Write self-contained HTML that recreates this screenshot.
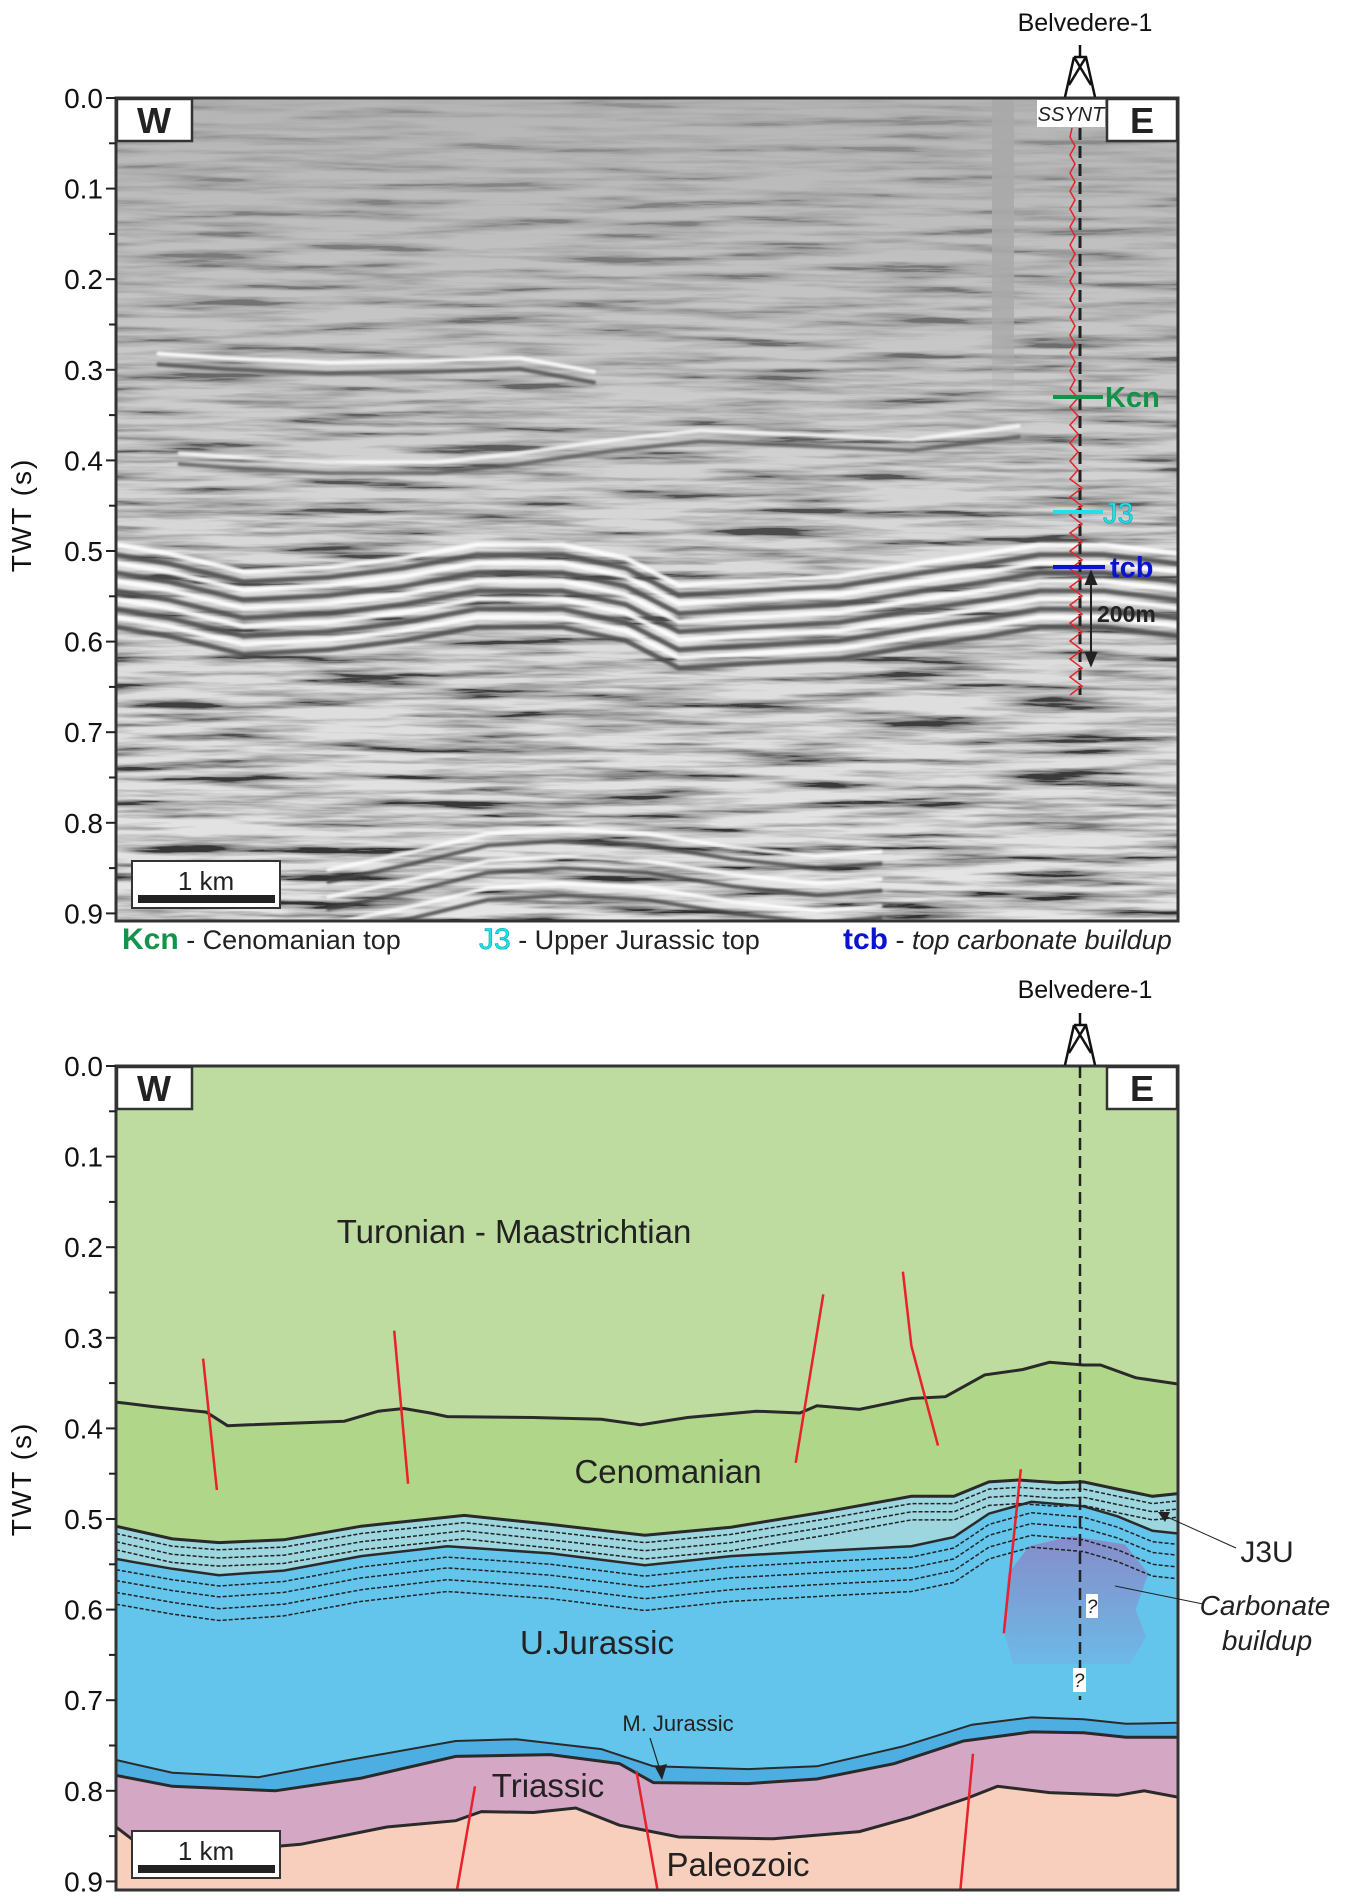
<!DOCTYPE html>
<html><head><meta charset="utf-8"><style>
html,body{margin:0;padding:0;background:#fff;}
svg{display:block;font-family:"Liberation Sans",Arial,sans-serif;}
</style></head><body>
<svg id="fig" width="1346" height="1904" viewBox="0 0 1346 1904" xmlns="http://www.w3.org/2000/svg">
<defs>
<filter id="seis" x="0" y="0" width="100%" height="100%">
<feTurbulence type="fractalNoise" baseFrequency="0.007 0.11" numOctaves="4" seed="7" result="n"/>
<feColorMatrix type="matrix" values="2.8 0 0 0 -0.75  2.8 0 0 0 -0.75  2.8 0 0 0 -0.75  0 0 0 0 1"/>
</filter>
<filter id="soft"><feGaussianBlur stdDeviation="1.0"/></filter>
<linearGradient id="fadeTop" x1="0" y1="0" x2="0" y2="1">
<stop offset="0" stop-color="#a9a9a9" stop-opacity="0.8"/>
<stop offset="0.3" stop-color="#a9a9a9" stop-opacity="0.5"/>
<stop offset="0.55" stop-color="#a9a9a9" stop-opacity="0.2"/>
<stop offset="1" stop-color="#a9a9a9" stop-opacity="0"/>
</linearGradient>
<linearGradient id="gapGrad" x1="0" y1="0" x2="0" y2="1">
<stop offset="0" stop-color="#a9a9a9" stop-opacity="0.95"/>
<stop offset="0.8" stop-color="#a9a9a9" stop-opacity="0.8"/>
<stop offset="1" stop-color="#a9a9a9" stop-opacity="0"/>
</linearGradient>
<linearGradient id="buildGrad" x1="0" y1="0" x2="0" y2="1">
<stop offset="0" stop-color="#8a86c6"/>
<stop offset="1" stop-color="#6db8e6"/>
</linearGradient>
<clipPath id="clipTop"><rect x="116" y="98" width="1062" height="823"/></clipPath>
<clipPath id="clipBot"><rect x="116" y="1066" width="1062" height="824"/></clipPath>
</defs>

<g>
<rect x="116" y="98" width="1062" height="823" fill="#a8a8a8"/>
<g clip-path="url(#clipTop)">
<rect x="116" y="98" width="1062" height="823" filter="url(#seis)" opacity="0.7"/>
<rect x="116" y="98" width="1062" height="823" fill="url(#fadeTop)"/>
<rect x="992" y="98" width="22" height="300" fill="url(#gapGrad)"/>
<g id="reflectors" filter="url(#soft)"></g>
</g>
<rect x="116" y="98" width="1062" height="823" fill="none" stroke="#333" stroke-width="3"/>
</g>

<g>
<g clip-path="url(#clipBot)" id="geo">
<rect x="116" y="1066" width="1062" height="824" fill="#bedc9f"/>
</g>
<rect x="116" y="1066" width="1062" height="824" fill="none" stroke="#333" stroke-width="3"/>
</g>

<g id="axes"></g>
<g id="overlay"></g>
</svg>
<script>
var X0 = 116, X1 = 1178;
var TOP0 = 98, BOT0 = 1066, PX_PER_S = 906;
var ticks = [0.0,0.1,0.2,0.3,0.4,0.5,0.6,0.7,0.8,0.9];
var tickLabels = ["0.0","0.1","0.2","0.3","0.4","0.5","0.6","0.7","0.8","0.9"];
var minorTicks = [0.05,0.15,0.25,0.35,0.45,0.55,0.65,0.75,0.85];
function xs(f){ return X0 + f*(X1-X0); }
function yTop(t){ return TOP0 + t*PX_PER_S; }
function yBot(t){ return BOT0 + t*PX_PER_S; }
var NS = "http://www.w3.org/2000/svg";
function mk(tag, attrs, parent){ var e=document.createElementNS(NS,tag); for(var k in attrs) e.setAttribute(k,attrs[k]); (parent||document.getElementById('fig')).appendChild(e); return e; }

// seismic reflectors (fraction of section, TWT s)
var bandX = [0,0.05,0.12,0.2,0.27,0.34,0.42,0.48,0.53,0.6,0.68,0.76,0.82,0.87,0.93,1];
var bandT = [0.50,0.51,0.53,0.525,0.515,0.50,0.50,0.515,0.545,0.54,0.535,0.52,0.51,0.50,0.50,0.51];
var bandOff = [0,0.02,0.04,0.06,0.08];
var r1X = [0.04,0.1,0.2,0.3,0.38,0.45];
var r1T = [0.29,0.295,0.30,0.298,0.295,0.31];
var r2X = [0.06,0.12,0.2,0.3,0.38,0.47,0.55,0.65,0.75,0.85];
var r2T = [0.40,0.405,0.41,0.41,0.40,0.385,0.375,0.38,0.385,0.37];
var r3X = [0.2,0.28,0.35,0.42,0.5,0.58,0.66,0.72];
var r3T = [0.86,0.84,0.82,0.815,0.82,0.835,0.845,0.84];

var refl = document.getElementById('reflectors');
function seisLine(X,T,off,color,w,name,op){
  var d=""; for(var i=0;i<X.length;i++){ d+=(i?"L":"M")+xs(X[i]).toFixed(1)+" "+yTop(T[i]+off).toFixed(1); }
  var p=mk('path',{d:d,fill:"none",stroke:color,"stroke-width":w,"stroke-linecap":"round","stroke-linejoin":"round",opacity:op||1},refl);
  
  
}
for (var b=0;b<bandOff.length;b++){
  seisLine(bandX,bandT,bandOff[b]-0.007,"#ffffff",5,"reflector-white",0.9);
  seisLine(bandX,bandT,bandOff[b]+0.004,"#505050",5,"reflector-dark",0.9);
}
seisLine(r1X,r1T,-0.008,"#ffffff",4,"reflector-white",0.9);
seisLine(r1X,r1T,0.004,"#555555",4,"reflector-dark",0.9);
seisLine(r2X,r2T,-0.008,"#ffffff",4,"reflector-white",0.8);
seisLine(r2X,r2T,0.004,"#555555",4,"reflector-dark",0.8);
for (var k=0;k<3;k++){
  seisLine(r3X,r3T,k*0.03-0.008,"#ffffff",4,"reflector-white",0.85);
  seisLine(r3X,r3T,k*0.03+0.005,"#474747",4,"reflector-dark",0.85);
}

// geologic horizons
var kcnX = [0,0.036,0.085,0.105,0.126,0.215,0.247,0.271,0.296,0.312,0.393,0.457,0.494,0.538,0.603,0.644,0.66,0.70,0.749,0.781,0.818,0.854,0.879,0.911,0.927,0.96,1];
var kcnT = [0.371,0.376,0.382,0.397,0.396,0.392,0.381,0.378,0.383,0.387,0.388,0.390,0.396,0.388,0.381,0.383,0.375,0.379,0.367,0.365,0.341,0.335,0.327,0.330,0.330,0.344,0.351];
var j3X = [0,0.053,0.097,0.158,0.231,0.328,0.409,0.498,0.579,0.668,0.749,0.789,0.822,0.850,0.887,0.911,0.943,0.976,1];
var j3T = [0.508,0.522,0.526,0.523,0.508,0.496,0.506,0.518,0.509,0.492,0.475,0.475,0.459,0.457,0.460,0.459,0.467,0.475,0.472];
var ujX = [0,0.053,0.097,0.158,0.231,0.312,0.409,0.498,0.579,0.668,0.749,0.789,0.822,0.862,0.911,0.943,0.976,1];
var ujT = [0.544,0.555,0.562,0.557,0.541,0.530,0.538,0.551,0.541,0.535,0.530,0.520,0.494,0.481,0.486,0.497,0.513,0.516];
var mjX = [0,0.053,0.134,0.215,0.320,0.377,0.457,0.506,0.595,0.660,0.741,0.806,0.862,0.911,0.951,1];
var mjT = [0.766,0.780,0.785,0.767,0.745,0.743,0.754,0.773,0.776,0.773,0.751,0.727,0.719,0.721,0.726,0.725];
var trX = [0,0.053,0.150,0.231,0.320,0.409,0.474,0.506,0.595,0.660,0.733,0.798,0.862,0.911,0.951,1];
var trT = [0.783,0.795,0.800,0.786,0.762,0.760,0.770,0.791,0.792,0.787,0.770,0.745,0.735,0.736,0.741,0.741];
var pzX = [0,0.028,0.093,0.174,0.255,0.320,0.344,0.393,0.433,0.474,0.530,0.619,0.700,0.749,0.802,0.830,0.879,0.943,0.968,1];
var pzT = [0.840,0.865,0.867,0.859,0.840,0.833,0.823,0.824,0.819,0.838,0.851,0.853,0.845,0.829,0.808,0.795,0.802,0.805,0.800,0.807];
var faultX = [[0.082,0.095],[0.262,0.275],[0.666,0.640],[0.741,0.749,0.774],[0.852,0.836],[0.338,0.321],[0.490,0.510],[0.807,0.795]];
var faultT = [[0.323,0.468],[0.292,0.461],[0.252,0.438],[0.227,0.309,0.419],[0.445,0.626],[0.795,0.910],[0.778,0.910],[0.759,0.910]];

var geo = document.getElementById('geo');
function hpath(X,T,off){ var d=""; for(var i=0;i<X.length;i++){ d+=(i?"L":"M")+xs(X[i]).toFixed(1)+" "+yBot(T[i]+(off||0)).toFixed(1);} return d; }
function fillBelow(X,T,color,name){
  var p=mk('path',{d:hpath(X,T)+"L"+X1+" 1900L"+X0+" 1900Z",fill:color},geo);
  
  
}
fillBelow(kcnX,kcnT,"#b0d689","cenomanian-layer");
fillBelow(j3X,j3T,"#9dd6de","j3u-layer");
fillBelow(ujX,ujT,"#63c5ec","u-jurassic-layer");
fillBelow(mjX,mjT,"#4daee2","m-jurassic-layer");
fillBelow(trX,trT,"#d4a8c5","triassic-layer");
fillBelow(pzX,pzT,"#f8cfbd","paleozoic-layer");

var bu = mk('path',{d:"M"+xs(0.84)+" "+yBot(0.56)+" L"+xs(0.86)+" "+yBot(0.53)+" L"+xs(0.9)+" "+yBot(0.519)+" L"+xs(0.95)+" "+yBot(0.528)+" L"+xs(0.972)+" "+yBot(0.56)+" L"+xs(0.96)+" "+yBot(0.6)+" L"+xs(0.97)+" "+yBot(0.63)+" L"+xs(0.955)+" "+yBot(0.66)+" L"+xs(0.845)+" "+yBot(0.66)+" L"+xs(0.835)+" "+yBot(0.62)+" Z",fill:"url(#buildGrad)",opacity:"0.9"},geo);



var dashOffsJ3 = [0.008,0.017,0.026];
var dashOffsUJ = [0.012,0.024,0.037,0.05];
for (var i=0;i<dashOffsJ3.length;i++){
  var p=mk('path',{d:hpath(j3X,j3T,dashOffsJ3[i]),fill:"none",stroke:"#222","stroke-width":1.5,"stroke-dasharray":"4 2"},geo);
  
  
}
for (var i=0;i<dashOffsUJ.length;i++){
  var p=mk('path',{d:hpath(ujX,ujT,dashOffsUJ[i]),fill:"none",stroke:"#222","stroke-width":1.5,"stroke-dasharray":"4 2"},geo);
  
  
}
var hz=[[kcnX,kcnT,3,"kcn-horizon"],[j3X,j3T,3,"j3-horizon"],[ujX,ujT,2.5,"u-jurassic-horizon"],[mjX,mjT,2,"m-jurassic-top-horizon"],[trX,trT,3,"triassic-top-horizon"],[pzX,pzT,3,"paleozoic-top-horizon"]];
for (var i=0;i<hz.length;i++){
  var p=mk('path',{d:hpath(hz[i][0],hz[i][1]),fill:"none",stroke:"#2a2a2a","stroke-width":hz[i][2]},geo);
  
  
}
for (var i=0;i<faultX.length;i++){
  var p=mk('path',{d:hpath(faultX[i],faultT[i]),fill:"none",stroke:"#e8212a","stroke-width":2.5},geo);
  
  
}

var axes=document.getElementById('axes');
[yTop,yBot].forEach(function(fy,pi){
  for(var i=0;i<ticks.length;i++){
    var y=fy(ticks[i]);
    var l=mk('line',{x1:X0-10,x2:X0,y1:y,y2:y,stroke:"#222","stroke-width":2},axes);
    
    
    var t=mk('text',{x:X0-13,y:y+10,"text-anchor":"end","font-size":28,fill:"#111"},axes);
    t.textContent=tickLabels[i];
    
    
  }
  for(var i=0;i<minorTicks.length;i++){
    var y=fy(minorTicks[i]);
    var l=mk('line',{x1:X0-7,x2:X0,y1:y,y2:y,stroke:"#222","stroke-width":2},axes);
    
    
  }
  var cy = pi===0?515:1479;
  var tt=mk('text',{x:31,y:cy,"text-anchor":"middle","font-size":28,"letter-spacing":"2",transform:"rotate(-90 31 "+cy+")",fill:"#111"},axes);
  tt.textContent="TWT (s)";
  
  
});
</script>
<script>
(function(){
var ov=document.getElementById('overlay');
function add(html){ ov.insertAdjacentHTML('beforeend',html); }
add('<rect x="117" y="99" width="75" height="42" fill="#fff" stroke="#333" stroke-width="2.5"/>');
add('<text x="154" y="133" text-anchor="middle" font-size="36" font-weight="bold" fill="#222">W</text>');
add('<rect x="1107" y="99" width="70" height="42" fill="#fff" stroke="#333" stroke-width="2.5"/>');
add('<text x="1142" y="133" text-anchor="middle" font-size="36" font-weight="bold" fill="#222">E</text>');
add('<rect x="117" y="1067" width="75" height="42" fill="#fff" stroke="#333" stroke-width="2.5"/>');
add('<text x="154" y="1101" text-anchor="middle" font-size="36" font-weight="bold" fill="#222">W</text>');
add('<rect x="1107" y="1067" width="70" height="42" fill="#fff" stroke="#333" stroke-width="2.5"/>');
add('<text x="1142" y="1101" text-anchor="middle" font-size="36" font-weight="bold" fill="#222">E</text>');
function derrick(cx,base){
  var top=base-40;
  return '<g fill="none" stroke="#111" stroke-width="2.5">'+
  '<line x1="'+cx+'" y1="'+(top-12)+'" x2="'+cx+'" y2="'+top+'"/>'+
  '<path d="M'+(cx-6)+' '+top+'L'+(cx+6)+' '+top+'L'+(cx+15)+' '+base+'M'+(cx-6)+' '+top+'L'+(cx-15)+' '+base+'M'+(cx-6)+' '+top+'L'+(cx+11)+' '+(base-12)+'M'+(cx+6)+' '+top+'L'+(cx-11)+' '+(base-12)+'"/></g>';
}
add('<text x="1085" y="31" text-anchor="middle" font-size="25" fill="#111">Belvedere-1</text>');
add(derrick(1080,97));
add('<text x="1085" y="998" text-anchor="middle" font-size="25" fill="#111">Belvedere-1</text>');
add(derrick(1080,1065));
add('<rect x="1037" y="100" width="68" height="27" fill="#fff"/>');
add('<text x="1071" y="121" text-anchor="middle" font-size="20" font-style="italic" fill="#222">SSYNT</text>');
add('<line x1="1080" y1="128" x2="1080" y2="695" stroke="#222" stroke-width="3" stroke-dasharray="12 6"/>');
var d="M1072 128"; var y=128; var i=0;
while(y<695){ y+=9; var amp = (y>470 && y<690)?10:(y>380?6:3); d+="L"+(1072+((i%2)?amp:-2))+" "+y; i++; }
add('<path d="'+d+'" fill="none" stroke="#e8212a" stroke-width="1.5"/>');
add('<line x1="1053" y1="397" x2="1103" y2="397" stroke="#13924a" stroke-width="4"/>');
add('<text x="1105" y="407" font-size="29" font-weight="bold" fill="#13924a">Kcn</text>');
add('<line x1="1053" y1="512" x2="1103" y2="512" stroke="#22e0e8" stroke-width="4"/>');
add('<text x="1103" y="523" font-size="29" fill="#22e0e8" stroke="#0aa" stroke-width="0.6">J3</text>');
add('<line x1="1053" y1="567" x2="1105" y2="567" stroke="#0a14d0" stroke-width="4"/>');
add('<text x="1110" y="577" font-size="29" font-weight="bold" fill="#0a14d0">tcb</text>');
add('<g stroke="#222" stroke-width="2" fill="#222"><line x1="1091" y1="582" x2="1091" y2="655"/><path d="M1086 584L1091 572L1096 584Z"/><path d="M1086 653L1091 665L1096 653Z"/></g>');
add('<text x="1097" y="622" font-size="23" font-weight="bold" fill="#222">200m</text>');
function scalebar(y){ return '<g><rect x="132" y="'+y+'" width="148" height="47" fill="#fff" stroke="#333" stroke-width="2"/><rect x="138" y="'+(y+34)+'" width="137" height="8" fill="#222"/><text x="206" y="'+(y+29)+'" text-anchor="middle" font-size="26" fill="#222">1 km</text></g>'; }
add(scalebar(861)); add(scalebar(1831));
add('<g font-size="27"><text x="122" y="949"><tspan font-weight="bold" font-size="30" fill="#13924a">Kcn</tspan><tspan fill="#222"> - Cenomanian top</tspan></text>'+
'<text x="479" y="949"><tspan font-size="30" fill="#22e0e8" stroke="#0aa" stroke-width="0.6">J3</tspan><tspan fill="#222"> - Upper Jurassic top</tspan></text>'+
'<text x="843" y="949"><tspan font-weight="bold" font-size="30" fill="#0a14d0">tcb</tspan><tspan fill="#222"> - </tspan><tspan fill="#222" font-style="italic">top carbonate buildup</tspan></text></g>');
add('<line x1="1080" y1="1066" x2="1080" y2="1700" stroke="#222" stroke-width="2.5" stroke-dasharray="12 6"/>');
add('<rect x="1086" y="1594" width="12" height="24" fill="#fff"/><text x="1092" y="1613" text-anchor="middle" font-size="19" font-style="italic" fill="#222">?</text>');
add('<rect x="1073" y="1668" width="13" height="24" fill="#fff"/><text x="1079" y="1687" text-anchor="middle" font-size="19" font-style="italic" fill="#222">?</text>');
var lab=[["Turonian - Maastrichtian",514,1243,33,"turonian-label"],["Cenomanian",668,1483,33,"cenomanian-label"],["U.Jurassic",597,1654,33,"u-jurassic-label"],["Triassic",548,1797,33,"triassic-label"],["Paleozoic",738,1876,33,"paleozoic-label"],["M. Jurassic",678,1731,22,"m-jurassic-label"]];
lab.forEach(function(l){ add('<text x="'+l[1]+'" y="'+l[2]+'" text-anchor="middle" font-size="'+l[3]+'" fill="#222">'+l[0]+'</text>'); });
add('<path d="M650 1738L660 1770" stroke="#222" stroke-width="1.2" fill="none"/><path d="M655 1767L662 1780L667 1764Z" fill="#222"/>');
add('<text x="1267" y="1562" text-anchor="middle" font-size="30" fill="#222">J3U</text>');
add('<path d="M1236 1548L1165 1516" stroke="#222" stroke-width="1" fill="none"/><path d="M1158 1512L1170 1512L1165 1522Z" fill="#222"/>');
add('<text x="1265" y="1615" text-anchor="middle" font-size="28" font-style="italic" fill="#222">Carbonate</text>');
add('<text x="1267" y="1650" text-anchor="middle" font-size="28" font-style="italic" fill="#222">buildup</text>');
add('<path d="M1203 1604L1115 1586" stroke="#222" stroke-width="1" fill="none"/>');
})();
</script>
</body></html>
